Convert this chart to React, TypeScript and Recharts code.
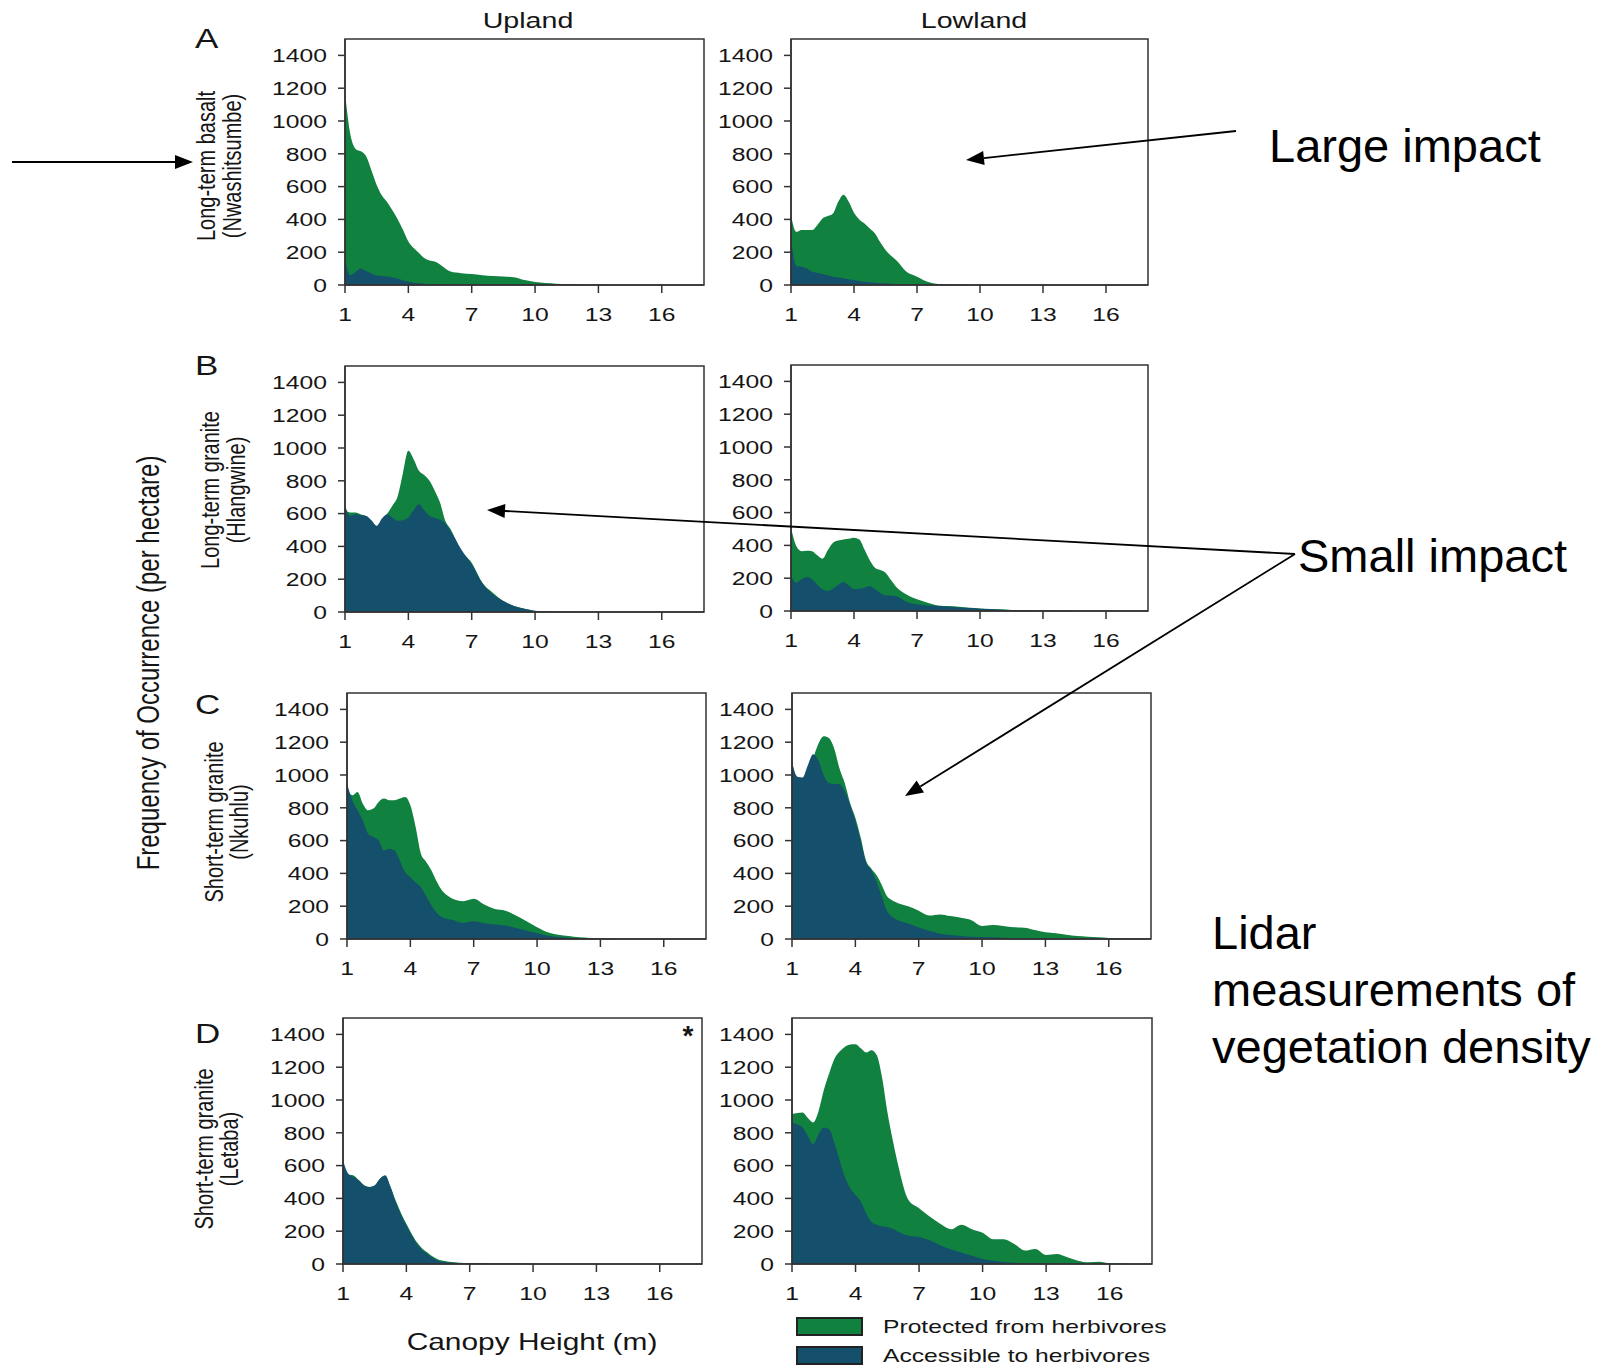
import React from "react";
import { Area, AreaChart, ReferenceArea, XAxis, YAxis } from "recharts";

// canopy height grid (m) – finer below 6 m where the curves move fast
const HEIGHTS = [
  1, 1.25, 1.5, 1.75, 2, 2.25, 2.5, 2.75, 3, 3.25, 3.5, 3.75, 4, 4.25, 4.5, 4.75, 5, 5.25, 5.5, 5.75, 6,
  6.5, 7, 7.5, 8, 8.5, 9, 9.5, 10, 10.5, 11, 11.5, 12, 12.5, 13, 13.5, 14, 14.5, 15, 15.5, 16, 16.5, 17, 17.5, 18,
];
const X_TICKS = [1, 4, 7, 10, 13, 16];
const Y_TICKS = [0, 200, 400, 600, 800, 1000, 1200, 1400];

// A – Long-term basalt (Nwashitsumbe)
const A_UP_PROTECTED = [
  1170, 920, 830, 815, 785, 700, 610, 545, 505, 455, 400, 335, 265, 225, 195, 165, 150, 143, 125, 100, 82,
  72, 67, 60, 55, 52, 48, 30, 18, 12, 8, 6, 4, 2, 1, 0, 0, 0, 0, 0, 0, 0, 0, 0, 0,
];
const A_UP_ACCESSIBLE = [
  155, 60, 80, 100, 85, 70, 58, 55, 52, 45, 38, 28, 20, 14, 10, 7, 5, 4, 3, 2, 2,
  1, 0, 0, 0, 0, 0, 0, 0, 0, 0, 0, 0, 0, 0, 0, 0, 0, 0, 0, 0, 0, 0, 0, 0,
];
const A_LOW_PROTECTED = [
  426, 324, 336, 336, 335, 365, 405, 420, 436, 507, 550, 507, 440, 400, 375, 345, 314, 260, 213, 180, 152,
  81, 51, 20, 6, 3, 1, 0, 0, 0, 0, 0, 0, 0, 0, 0, 0, 0, 0, 0, 0, 0, 0, 0, 0,
];
const A_LOW_ACCESSIBLE = [
  284, 116, 112, 100, 81, 75, 67, 60, 51, 45, 41, 35, 30, 25, 20, 17, 14, 12, 10, 8, 6,
  4, 3, 2, 2, 1, 1, 0, 0, 0, 0, 0, 0, 0, 0, 0, 0, 0, 0, 0, 0, 0, 0, 0, 0,
];

// B – Long-term granite (Hlangwine)
const B_UP_PROTECTED = [
  620, 606, 606, 595, 586, 555, 525, 560, 600, 650, 708, 850, 983, 932, 861, 835, 800, 740, 667, 556, 505,
  372, 301, 179, 118, 67, 37, 20, 6, 3, 1, 0, 0, 0, 0, 0, 0, 0, 0, 0, 0, 0, 0, 0, 0,
];
const B_UP_ACCESSIBLE = [
  650, 586, 596, 590, 586, 560, 525, 570, 596, 575, 556, 560, 576, 620, 657, 620, 586, 575, 562, 540, 495,
  383, 291, 179, 108, 67, 37, 20, 8, 4, 2, 1, 0, 0, 0, 0, 0, 0, 0, 0, 0, 0, 0, 0, 0,
];
const B_LOW_PROTECTED = [
  507, 396, 365, 368, 365, 340, 319, 370, 416, 430, 436, 440, 446, 436, 375, 310, 264, 250, 233, 190, 148,
  101, 71, 51, 34, 30, 26, 20, 16, 12, 10, 6, 4, 2, 2, 1, 1, 0, 0, 0, 0, 0, 0, 0, 0,
];
const B_LOW_ACCESSIBLE = [
  213, 172, 193, 207, 193, 160, 132, 122, 136, 160, 177, 155, 132, 135, 142, 152, 132, 110, 95, 95, 91,
  55, 41, 34, 30, 26, 22, 18, 14, 12, 8, 6, 4, 2, 1, 1, 0, 0, 0, 0, 0, 0, 0, 0, 0,
];

// C – Short-term granite (Nkuhlu)
const C_UP_PROTECTED = [
  917, 876, 897, 825, 785, 795, 836, 856, 846, 846, 856, 866, 815, 683, 520, 470, 418, 350, 295, 265, 245,
  230, 245, 210, 183, 173, 143, 108, 71, 41, 26, 18, 10, 6, 2, 1, 0, 0, 0, 0, 0, 0, 0, 0, 0,
];
const C_UP_ACCESSIBLE = [
  948, 846, 785, 723, 642, 622, 601, 540, 550, 540, 479, 408, 377, 345, 316, 260, 204, 160, 132, 122, 116,
  98, 108, 96, 88, 82, 67, 51, 35, 20, 12, 8, 4, 2, 1, 0, 0, 0, 0, 0, 0, 0, 0, 0, 0,
];
const C_LOW_PROTECTED = [
  1080, 960, 900, 1000, 1100, 1190, 1237, 1225, 1160, 1040, 950, 830, 740, 620, 480, 430, 390, 330, 260, 235, 220,
  200, 173, 143, 150, 140, 130, 115, 80, 85, 80, 71, 69, 55, 41, 35, 26, 18, 14, 10, 6, 4, 2, 1, 0,
];
const C_LOW_ACCESSIBLE = [
  1076, 990, 985, 1060, 1127, 1090, 1000, 950, 945, 944, 900, 820, 720, 600, 470, 420, 350, 260, 170, 135, 115,
  95, 70, 50, 32, 25, 18, 14, 12, 10, 8, 6, 6, 4, 3, 2, 2, 1, 1, 0, 0, 0, 0, 0, 0,
];

// D – Short-term granite (Letaba)
const D_UP_PROTECTED = [
  620, 545, 540, 510, 480, 470, 478, 520, 540, 470, 385, 310, 245, 185, 132, 95, 70, 45, 28, 20, 14,
  8, 5, 4, 3, 2, 1, 1, 0, 0, 0, 0, 0, 0, 0, 0, 0, 0, 0, 0, 0, 0, 0, 0, 0,
];
const D_UP_ACCESSIBLE = [
  632, 550, 530, 510, 479, 469, 479, 520, 540, 469, 377, 300, 234, 175, 122, 85, 61, 38, 20, 14, 10,
  6, 4, 3, 2, 1, 1, 0, 0, 0, 0, 0, 0, 0, 0, 0, 0, 0, 0, 0, 0, 0, 0, 0, 0,
];
const D_LOW_PROTECTED = [
  915, 920, 924, 890, 863, 930, 1060, 1160, 1250, 1295, 1325, 1338, 1340, 1315, 1290, 1304, 1275, 1140, 930, 760, 610,
  390, 340, 290, 245, 212, 240, 212, 190, 151, 151, 122, 82, 92, 55, 61, 41, 20, 10, 14, 4, 1, 0, 0, 0,
];
const D_LOW_ACCESSIBLE = [
  863, 850, 832, 780, 731, 790, 832, 822, 740, 630, 530, 460, 420, 380, 310, 258, 240, 230, 225, 215, 198,
  172, 165, 145, 115, 90, 70, 50, 30, 20, 12, 8, 6, 4, 3, 2, 1, 0, 0, 0, 0, 0, 0, 0, 0,
];

const GREEN = "#11813F";
const BLUE = "#144F6C";
const INK = "#151515";
const FRAME = "#333";
const FONT = '"Liberation Sans", Arial, Helvetica, sans-serif';
const STRETCH = 1.3; // the original figure is stretched sideways

const PLOT_H = 246;
const ML = 90;
const MT = 10;
const MR = 10;
const MB = 50;

function XTick({ x, y, payload }: any) {
  return (
    <text
      transform={`translate(${x},${y}) scale(${STRETCH},1)`}
      textAnchor="middle"
      dy="0.71em"
      fontSize={19}
      fontFamily={FONT}
      fill={INK}
    >
      {payload.value}
    </text>
  );
}

function YTick({ x, y, payload }: any) {
  return (
    <text
      transform={`translate(${x},${y}) scale(${STRETCH},1)`}
      textAnchor="end"
      dy="0.36em"
      fontSize={19}
      fontFamily={FONT}
      fill={INK}
    >
      {payload.value}
    </text>
  );
}

type PanelProps = {
  left: number;
  top: number;
  width: number;
  protectedVals: number[];
  accessibleVals: number[];
};

function Panel({ left, top, width, protectedVals, accessibleVals }: PanelProps) {
  const data = HEIGHTS.map((h, i) => ({
    h,
    prot: protectedVals[i],
    acc: accessibleVals[i],
  }));
  return (
    <div style={{ position: "absolute", left: left - ML, top: top - MT }}>
      <AreaChart
        width={ML + width + MR}
        height={MT + PLOT_H + MB}
        data={data}
        margin={{ top: MT, right: MR, bottom: 0, left: 0 }}
      >
        <XAxis
          dataKey="h"
          type="number"
          domain={[1, 18]}
          ticks={X_TICKS}
          interval={0}
          allowDataOverflow
          height={MB}
          tickSize={8}
          tickMargin={15}
          axisLine={{ stroke: FRAME, strokeWidth: 1.5 }}
          tickLine={{ stroke: FRAME, strokeWidth: 1.5 }}
          tick={(p: any) => <XTick {...p} />}
        />
        <YAxis
          type="number"
          domain={[0, 1500]}
          ticks={Y_TICKS}
          interval={0}
          allowDataOverflow
          width={ML}
          tickSize={7}
          tickMargin={11}
          axisLine={{ stroke: FRAME, strokeWidth: 1.5 }}
          tickLine={{ stroke: FRAME, strokeWidth: 1.5 }}
          tick={(p: any) => <YTick {...p} />}
        />
        <Area
          dataKey="prot"
          type="monotone"
          fill={GREEN}
          fillOpacity={1}
          stroke="none"
          isAnimationActive={false}
        />
        <Area
          dataKey="acc"
          type="monotone"
          fill={BLUE}
          fillOpacity={1}
          stroke="none"
          isAnimationActive={false}
        />
        <ReferenceArea
          x1={1}
          x2={18}
          y1={0}
          y2={1500}
          fill="none"
          fillOpacity={0}
          stroke={FRAME}
          strokeWidth={1.5}
        />
      </AreaChart>
    </div>
  );
}

function Arrow({ x1, y1, x2, y2 }: { x1: number; y1: number; x2: number; y2: number }) {
  const a = Math.atan2(y2 - y1, x2 - x1);
  const len = 18;
  const half = 7;
  const bx = x2 - len * Math.cos(a);
  const by = y2 - len * Math.sin(a);
  const px = -Math.sin(a) * half;
  const py = Math.cos(a) * half;
  return (
    <g>
      <line x1={x1} y1={y1} x2={bx} y2={by} stroke="#000" strokeWidth={1.8} />
      <polygon
        points={`${x2},${y2} ${bx + px},${by + py} ${bx - px},${by - py}`}
        fill="#000"
      />
    </g>
  );
}

function Stretched({
  x,
  y,
  size,
  children,
  anchor = "start",
  sx = STRETCH,
  weight = "normal",
}: {
  x: number;
  y: number;
  size: number;
  children: React.ReactNode;
  anchor?: "start" | "middle" | "end";
  sx?: number;
  weight?: string;
}) {
  return (
    <text
      transform={`translate(${x},${y}) scale(${sx},1)`}
      textAnchor={anchor}
      fontSize={size}
      fontFamily={FONT}
      fontWeight={weight}
      fill={INK}
    >
      {children}
    </text>
  );
}

// rotated text; the sideways stretch becomes a vertical stretch of the glyphs
function Rotated({ x, y, size, children }: { x: number; y: number; size: number; children: React.ReactNode }) {
  return (
    <text
      transform={`translate(${x},${y}) rotate(-90) scale(1,${STRETCH})`}
      textAnchor="middle"
      fontSize={size}
      fontFamily={FONT}
      fill={INK}
    >
      {children}
    </text>
  );
}

const ROW_LABELS = [
  { letter: "A", letterY: 48, cy: 166, x1: 215, x2: 241, l1: "Long-term basalt", l2: "(Nwashitsumbe)" },
  { letter: "B", letterY: 375, cy: 490, x1: 219, x2: 245, l1: "Long-term granite", l2: "(Hlangwine)" },
  { letter: "C", letterY: 714, cy: 822, x1: 223, x2: 248, l1: "Short-term granite", l2: "(Nkuhlu)" },
  { letter: "D", letterY: 1043, cy: 1149, x1: 213, x2: 238, l1: "Short-term granite", l2: "(Letaba)" },
];

export default function App() {
  const bigText = { fontSize: 47, fontFamily: FONT, fill: "#000" };
  return (
    <div
      style={{
        position: "absolute",
        left: 0,
        top: 0,
        width: 1618,
        height: 1367,
        background: "#fff",
        overflow: "hidden",
      }}
    >
      <Panel left={344.5} top={39} width={359} protectedVals={A_UP_PROTECTED} accessibleVals={A_UP_ACCESSIBLE} />
      <Panel left={791} top={39} width={357} protectedVals={A_LOW_PROTECTED} accessibleVals={A_LOW_ACCESSIBLE} />
      <Panel left={345} top={366} width={359} protectedVals={B_UP_PROTECTED} accessibleVals={B_UP_ACCESSIBLE} />
      <Panel left={791} top={365} width={357} protectedVals={B_LOW_PROTECTED} accessibleVals={B_LOW_ACCESSIBLE} />
      <Panel left={347} top={693} width={359} protectedVals={C_UP_PROTECTED} accessibleVals={C_UP_ACCESSIBLE} />
      <Panel left={792} top={693} width={359} protectedVals={C_LOW_PROTECTED} accessibleVals={C_LOW_ACCESSIBLE} />
      <Panel left={343} top={1018} width={359} protectedVals={D_UP_PROTECTED} accessibleVals={D_UP_ACCESSIBLE} />
      <Panel left={792} top={1018} width={360} protectedVals={D_LOW_PROTECTED} accessibleVals={D_LOW_ACCESSIBLE} />

      <svg
        width={1618}
        height={1367}
        style={{ position: "absolute", left: 0, top: 0, pointerEvents: "none" }}
      >
        <Stretched x={528} y={28} size={22} anchor="middle">Upland</Stretched>
        <Stretched x={974} y={28} size={22} anchor="middle">Lowland</Stretched>

        {ROW_LABELS.map((r) => (
          <g key={r.letter}>
            <Stretched x={195} y={r.letterY} size={28} sx={1.25}>{r.letter}</Stretched>
            <Rotated x={r.x1} y={r.cy} size={20}>{r.l1}</Rotated>
            <Rotated x={r.x2} y={r.cy} size={20}>{r.l2}</Rotated>
          </g>
        ))}

        <Rotated x={159} y={663} size={24}>Frequency of Occurrence (per hectare)</Rotated>
        <Stretched x={532} y={1350} size={23} anchor="middle">Canopy Height (m)</Stretched>

        <text x={688} y={1045} textAnchor="middle" fontSize={28} fontWeight="bold" fontFamily={FONT} fill={INK}>*</text>

        {/* legend */}
        <rect x={797} y={1318} width={65} height={17} fill={GREEN} stroke="#222" strokeWidth={2} />
        <rect x={797} y={1347} width={65} height={17} fill={BLUE} stroke="#222" strokeWidth={2} />
        <Stretched x={883} y={1333} size={18} sx={1.37}>Protected from herbivores</Stretched>
        <Stretched x={883} y={1362} size={18} sx={1.37}>Accessible to herbivores</Stretched>

        {/* annotations */}
        <text x={1269} y={162} {...bigText}>Large impact</text>
        <text x={1298} y={572} {...bigText}>Small impact</text>
        <text x={1212} y={949} {...bigText}>Lidar</text>
        <text x={1212} y={1006} {...bigText}>measurements of</text>
        <text x={1212} y={1063} {...bigText}>vegetation density</text>

        <Arrow x1={12} y1={162} x2={193} y2={162} />
        <Arrow x1={1236} y1={131} x2={966} y2={160} />
        <Arrow x1={1295} y1={554} x2={487} y2={510} />
        <Arrow x1={1295} y1={554} x2={905} y2={796} />
      </svg>
    </div>
  );
}
